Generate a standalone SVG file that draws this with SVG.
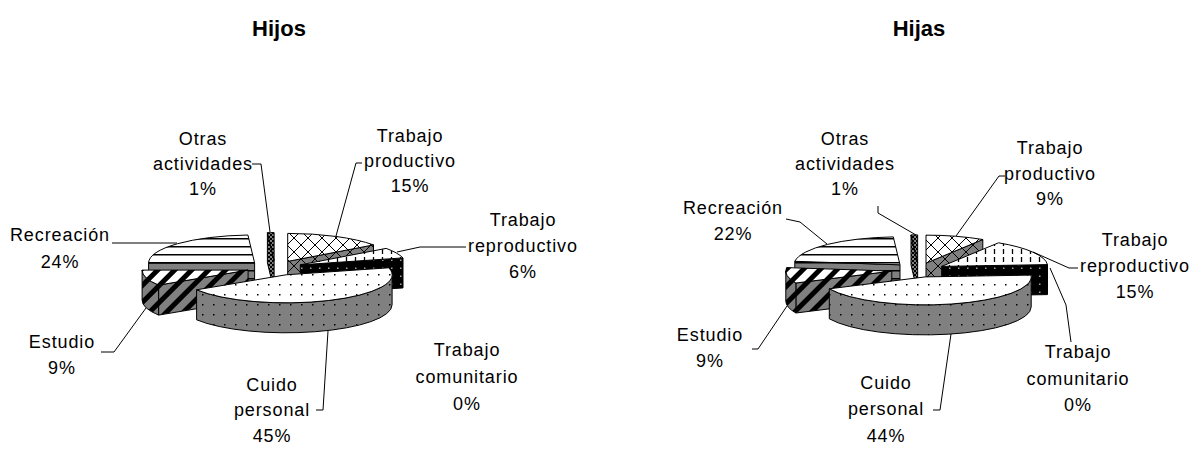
<svg xmlns="http://www.w3.org/2000/svg" width="1193" height="450" viewBox="0 0 1193 450">
<style>
.f{stroke:#000;stroke-width:1;stroke-linejoin:round}
.lbl{font-family:"Liberation Sans",Arial,sans-serif;font-size:18px;letter-spacing:0.9px;text-anchor:middle;fill:#000}
.ttl{font-family:"Liberation Sans",Arial,sans-serif;font-size:22px;font-weight:bold;text-anchor:middle;fill:#000}
.ld{fill:none;stroke:#000;stroke-width:1}
</style>
<defs>
<pattern id="crossT" width="14" height="14" patternUnits="userSpaceOnUse"><rect width="14" height="14" fill="#fff"/><path d="M0 0L14 14M14 0L0 14" stroke="#000" stroke-width="1"/></pattern>
<pattern id="crossS" width="14" height="14" patternUnits="userSpaceOnUse"><rect width="14" height="14" fill="#808080"/><path d="M0 0L14 14M14 0L0 14" stroke="#000" stroke-width="1"/></pattern>
<pattern id="vdashT" width="9" height="8" patternUnits="userSpaceOnUse"><rect width="9" height="8" fill="#fff"/><path d="M4.5 1V6" stroke="#000" stroke-width="1.3"/></pattern>
<pattern id="blkdot" width="9" height="8" patternUnits="userSpaceOnUse"><rect width="9" height="8" fill="#000"/><rect x="4" y="3.5" width="1.5" height="1.5" fill="#a0a0a0"/></pattern>
<pattern id="dotT" width="11" height="10" patternUnits="userSpaceOnUse"><rect width="11" height="10" fill="#fff"/><rect x="4" y="4" width="1.5" height="1.5" fill="#000"/></pattern>
<pattern id="dotS" width="11" height="10" patternUnits="userSpaceOnUse"><rect width="11" height="10" fill="#808080"/><rect x="4" y="4" width="1.5" height="1.5" fill="#000"/></pattern>
<pattern id="diagT" width="12" height="12" patternUnits="userSpaceOnUse" patternTransform="rotate(45)"><rect width="12" height="12" fill="#fff"/><rect width="5" height="12" fill="#000"/></pattern>
<pattern id="diagS" width="12" height="12" patternUnits="userSpaceOnUse" patternTransform="rotate(45)"><rect width="12" height="12" fill="#808080"/><rect width="5" height="12" fill="#000"/></pattern>
<pattern id="hlineT" width="10" height="8" patternUnits="userSpaceOnUse"><rect width="10" height="8" fill="#fff"/><rect y="6" width="10" height="1.5" fill="#000"/></pattern>
<pattern id="hlineS" width="10" height="8" patternUnits="userSpaceOnUse"><rect width="10" height="8" fill="#808080"/><rect y="6" width="10" height="1.5" fill="#000"/></pattern>
<pattern id="chk" width="4" height="4" patternUnits="userSpaceOnUse"><rect width="4" height="4" fill="#808080"/><rect width="2" height="2" fill="#000"/><rect x="2" y="2" width="2" height="2" fill="#000"/></pattern>
</defs>
<rect width="1193" height="450" fill="#fff"/>

<g id="hijos-title"><text class="ttl" x="279" y="36">Hijos</text></g>
<g id="hijas-title"><text class="ttl" x="919" y="36">Hijas</text></g>

<!-- LEFT PIE: Hijos -->
<g id="hijos-otras">
<path class="f" fill="url(#chk)" d="M274.1 260.6 L267.4 232.7 L267.4 262.7 L274.1 290.6 Z"/>
<path class="f" fill="url(#chk)" d="M274.1 260.6 L267.4 232.7 A106 28 0 0 1 274.1 232.6 Z"/>
<text class="lbl" x="203" y="145">Otras</text><text class="lbl" x="203" y="170">actividades</text><text class="lbl" x="203" y="195">1%</text>
</g>
<g id="hijos-recreacion">
<path class="f" fill="url(#hlineS)" d="M254.6 262.9 L148.6 262.9 L148.6 292.9 L254.6 292.9 Z"/>
<path class="f" fill="url(#hlineT)" d="M254.6 262.9 L148.6 262.9 A106 28 0 0 1 247.9 235.0 Z"/>
<text class="lbl" x="60" y="241">Recreación</text><text class="lbl" x="60" y="268">24%</text>
</g>
<g id="hijos-productivo">
<path class="f" fill="url(#crossS)" d="M287.7 261.4 L373.5 244.9 L373.5 274.9 L287.7 291.4 Z"/>
<path class="f" fill="url(#crossT)" d="M287.7 261.4 L287.7 233.4 A106 28 0 0 1 373.5 244.9 Z"/>
<text class="lbl" x="410" y="142">Trabajo</text><text class="lbl" x="410" y="167">productivo</text><text class="lbl" x="410" y="192">15%</text>
</g>
<g id="hijos-reproductivo">
<path class="f" fill="url(#blkdot)" d="M300.3 264.85 L403.0 257.9 L403.0 287.9 L300.3 294.85 Z"/>
<path class="f" fill="url(#vdashT)" d="M300.3 264.85 L386.1 248.4 A106 28 0 0 1 403.0 257.9 Z"/>
<text class="lbl" x="523" y="226">Trabajo</text><text class="lbl" x="523" y="252">reproductivo</text><text class="lbl" x="523" y="278">6%</text>
</g>
<g id="hijos-comunitario">
<text class="lbl" x="467" y="356">Trabajo</text><text class="lbl" x="467" y="383">comunitario</text><text class="lbl" x="467" y="410">0%</text>
</g>
<g id="hijos-estudio">
<path class="f" fill="url(#diagS)" d="M248.1 270.1 L158.6 285.1 L158.6 315.1 L248.1 300.1 Z"/>
<path class="f" fill="url(#diagS)" d="M158.6 285.1 A106 28 0 0 1 142.1 270.1 L142.1 300.1 A106 28 0 0 0 158.6 315.1 Z"/>
<path class="f" fill="url(#diagT)" d="M248.1 270.1 L158.6 285.1 A106 28 0 0 1 142.1 270.1 Z"/>
<text class="lbl" x="62" y="348">Estudio</text><text class="lbl" x="62" y="374">9%</text>
</g>
<g id="hijos-cuido">
<path class="f" fill="url(#dotS)" d="M392.1 274.8 A106 28 0 0 1 196.6 289.8 L196.6 319.8 A106 28 0 0 0 392.1 304.8 Z"/>
<path class="f" fill="url(#dotT)" d="M286.1 274.8 L388.8 267.8 A106 28 0 0 1 196.6 289.8 Z"/>
<text class="lbl" x="272" y="391">Cuido</text><text class="lbl" x="272" y="416">personal</text><text class="lbl" x="272" y="442">45%</text>
</g>

<!-- RIGHT PIE: Hijas -->
<g id="hijas-otras">
<path class="f" fill="url(#chk)" d="M917.65 262.87 L911.0 234.9 L911.0 264.9 L917.65 292.87 Z"/>
<path class="f" fill="url(#chk)" d="M917.65 262.87 L911.0 234.9 A106 28 0 0 1 917.65 234.9 Z"/>
<text class="lbl" x="845" y="145">Otras</text><text class="lbl" x="845" y="170">actividades</text><text class="lbl" x="845" y="195">1%</text>
</g>
<g id="hijas-recreacion">
<path class="f" fill="url(#hlineS)" d="M900.0 264.8 L794.8 261.3 L794.8 291.3 L900.0 294.8 Z"/>
<path class="f" fill="url(#hlineT)" d="M900.0 264.8 L794.8 261.3 A106 28 0 0 1 893.3 236.9 Z"/>
<text class="lbl" x="733" y="214">Recreación</text><text class="lbl" x="733" y="240">22%</text>
</g>
<g id="hijas-productivo">
<path class="f" fill="url(#crossS)" d="M926.0 263.15 L982.8 239.5 L982.8 269.5 L926.0 293.15 Z"/>
<path class="f" fill="url(#crossT)" d="M926.0 263.15 L926.0 235.15 A106 28 0 0 1 982.8 239.5 Z"/>
<text class="lbl" x="1050" y="154">Trabajo</text><text class="lbl" x="1050" y="180">productivo</text><text class="lbl" x="1050" y="205">9%</text>
</g>
<g id="hijas-reproductivo">
<path class="f" fill="url(#blkdot)" d="M941.7 266.4 L1047.5 264.6 L1047.5 294.6 L941.7 296.4 Z"/>
<path class="f" fill="url(#vdashT)" d="M941.7 266.4 L998.5 242.8 A106 28 0 0 1 1047.5 264.6 Z"/>
<text class="lbl" x="1135" y="246">Trabajo</text><text class="lbl" x="1135" y="272">reproductivo</text><text class="lbl" x="1135" y="298">15%</text>
</g>
<g id="hijas-comunitario">
<text class="lbl" x="1078" y="358">Trabajo</text><text class="lbl" x="1078" y="385">comunitario</text><text class="lbl" x="1078" y="411">0%</text>
</g>
<g id="hijas-estudio">
<path class="f" fill="url(#diagS)" d="M891.8 271.1 L795.9 283.0 L795.9 313.0 L891.8 301.1 Z"/>
<path class="f" fill="url(#diagS)" d="M795.9 283.0 A106 28 0 0 1 785.8 271.1 L785.8 301.1 A106 28 0 0 0 795.9 313.0 Z"/>
<path class="f" fill="url(#diagT)" d="M891.8 271.1 L795.9 283.0 A106 28 0 0 1 786.6 267.6 Z"/>
<text class="lbl" x="710" y="341">Estudio</text><text class="lbl" x="710" y="367">9%</text>
</g>
<g id="hijas-cuido">
<path class="f" fill="url(#dotS)" d="M1031.2 276.9 A106 28 0 0 1 829.3 288.8 L829.3 318.8 A106 28 0 0 0 1031.2 306.9 Z"/>
<path class="f" fill="url(#dotT)" d="M925.2 276.9 L1031.0 275.1 A106 28 0 0 1 829.3 288.8 Z"/>
<text class="lbl" x="886" y="389">Cuido</text><text class="lbl" x="886" y="415">personal</text><text class="lbl" x="886" y="442">44%</text>
</g>

<g id="connectors">
<path class="ld" d="M252 164 H261 L270 232"/>
<path class="ld" d="M362 163 H356 L336 236"/>
<path class="ld" d="M466 247 H420 L397 252"/>
<path class="ld" d="M112 243 H177"/>
<path class="ld" d="M101 352 H114 L146 308"/>
<path class="ld" d="M316 410 H323 L328 331"/>
<path class="ld" d="M878 206 V213 L916 235"/>
<path class="ld" d="M786 219 L800 222 L827 244"/>
<path class="ld" d="M1005 176 H999 L956 236"/>
<path class="ld" d="M1078 268 H1069 L1033 252"/>
<path class="ld" d="M1071 342 L1066 305 L1050 268"/>
<path class="ld" d="M752 349 H758 L787 306"/>
<path class="ld" d="M933 410 H940 L951 334"/>
</g>
</svg>
